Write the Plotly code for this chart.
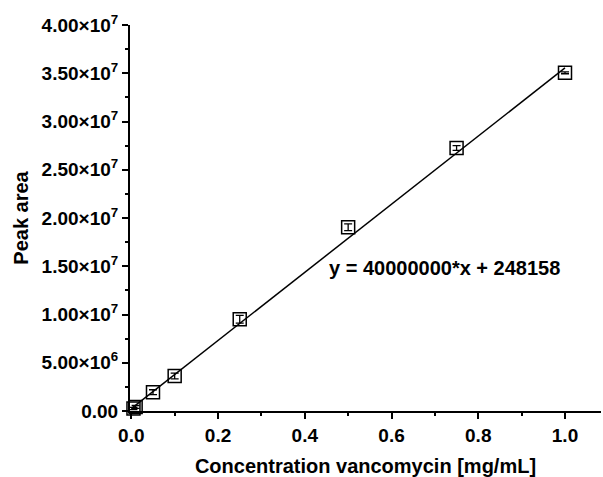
import numpy as np
import plotly.graph_objects as go

# Calibration standards: vancomycin concentration (mg/mL) and measured peak area
conc = [0.005, 0.01, 0.05, 0.1, 0.25, 0.5, 0.75, 1.0]
peak_area = [2.6e5, 4.2e5, 1.95e6, 3.62e6, 9.51e6, 1.904e7, 2.726e7, 3.505e7]
peak_err = [1.2e5, 1.5e5, 2.5e5, 3.0e5, 4.0e5, 3.5e5, 2.5e5, 1.0e5]

# Linear calibration fit
slope = 3.53e7
intercept = 248158
fit_x = [0.0, max(conc)]

# Axis ticks
x_ticks = [0.0, 0.2, 0.4, 0.6, 0.8, 1.0]
x_ticktext = ["0.0", "0.2", "0.4", "0.6", "0.8", "1.0"]
y_ticks = [0, 5e6, 1e7, 1.5e7, 2e7, 2.5e7, 3e7, 3.5e7, 4e7]
y_ticktext = ["0.00", "5.00×10<sup>6</sup>", "1.00×10<sup>7</sup>", "1.50×10<sup>7</sup>",
              "2.00×10<sup>7</sup>", "2.50×10<sup>7</sup>", "3.00×10<sup>7</sup>",
              "3.50×10<sup>7</sup>", "4.00×10<sup>7</sup>"]

FONT = "Liberation Sans, Arial, sans-serif"

fig = go.Figure()

fig.add_trace(go.Scatter(
    x=fit_x,
    y=[slope * v + intercept for v in fit_x],
    mode="lines",
    line=dict(color="black", width=1.5),
    hoverinfo="skip",
    showlegend=False,
))

fig.add_trace(go.Scatter(
    x=conc,
    y=peak_area,
    mode="markers",
    marker=dict(symbol="square-open", size=13, color="black", line=dict(width=1.5, color="black")),
    error_y=dict(type="data", array=peak_err, color="black", thickness=1.3, width=4),
    showlegend=False,
    cliponaxis=False,
))

# Equation label: slope shown with one significant figure
slope_shown = float(f"{slope:.1g}")
fig.add_annotation(
    x=0.452, y=1.48e7, xref="x", yref="y",
    text=f"<b>y = {slope_shown:.0f}*x + {intercept:.0f}</b>",
    showarrow=False, xanchor="left", yanchor="middle",
    font=dict(family=FONT, size=20, color="black"),
)

axis_common = dict(
    showgrid=False, zeroline=False,
    showline=True, linecolor="black", linewidth=2,
    ticks="outside", ticklen=6, tickwidth=1.5, tickcolor="black",
    tickfont=dict(family=FONT, size=19, color="black", weight="bold"),
    mirror=False,
)

fig.update_xaxes(
    **axis_common,
    range=[-0.003, 1.083],
    tickmode="array", tickvals=x_ticks, ticktext=x_ticktext,
    minor=dict(ticks="outside", ticklen=3, tickwidth=1.5, tickcolor="black", dtick=0.1, tick0=0),
    title=dict(text="<b>Concentration vancomycin [mg/mL]</b>",
               font=dict(family=FONT, size=20, color="black"), standoff=14),
)
fig.update_yaxes(
    **axis_common,
    range=[0, 4e7],
    tickmode="array", tickvals=y_ticks, ticktext=y_ticktext,
    minor=dict(ticks="outside", ticklen=3, tickwidth=1.5, tickcolor="black", dtick=2.5e6, tick0=0),
    title=dict(text="<b>Peak area</b>",
               font=dict(family=FONT, size=20, color="black"), standoff=8),
)

fig.update_layout(
    width=603, height=477,
    margin=dict(l=130, r=2, t=25, b=66, autoexpand=False),
    paper_bgcolor="white", plot_bgcolor="white",
    font=dict(family=FONT, color="black"),
)

fig.write_html("out.html")
